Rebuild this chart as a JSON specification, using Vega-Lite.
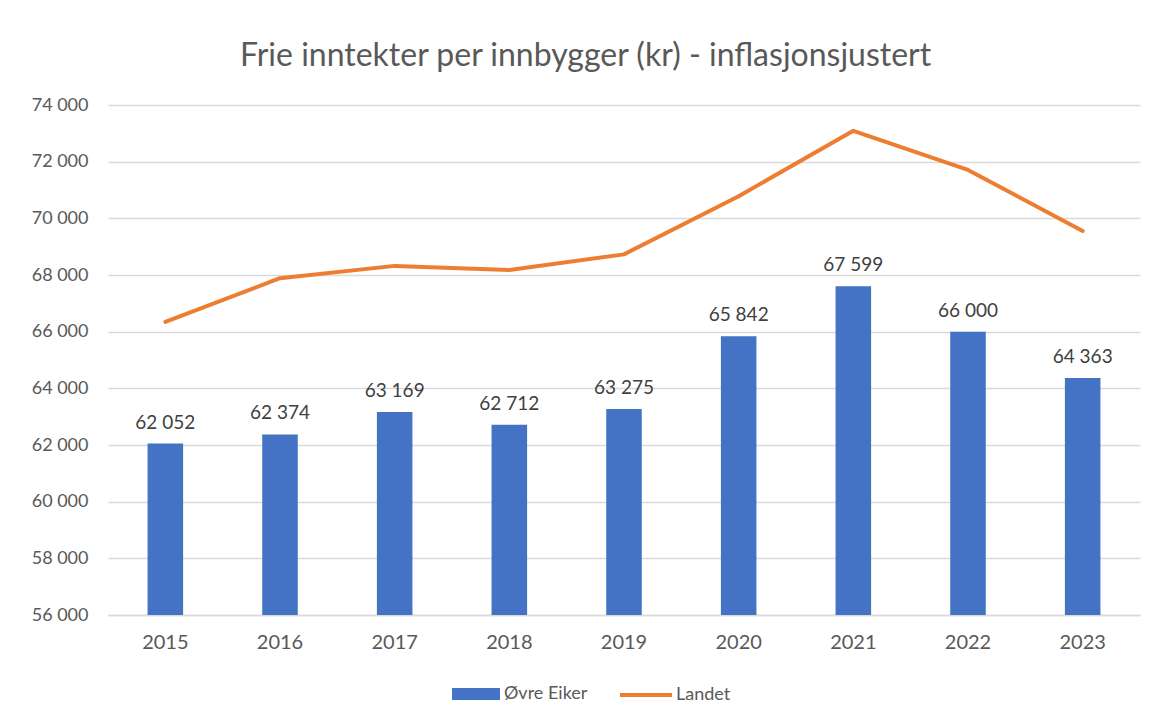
{
  "$schema": "https://vega.github.io/schema/vega-lite/v6.json",
  "autosize": "none",
  "width": 1032,
  "height": 510,
  "padding": {"left": 108, "top": 105, "right": 14, "bottom": 105},
  "background": "white",
  "config": {
    "locale": {"number": {"decimal": ",", "thousands": " ", "grouping": [3], "currency": ["", " kr"]}},
    "font": "Lato",
    "view": {"stroke": null},
    "axis": {"labelFont": "Lato", "labelColor": "#595959", "ticks": false, "title": null},
    "legend": {"labelFont": "Lato", "labelFontSize": 18, "labelColor": "#595959"}
  },
  "title": {"text": "Frie inntekter per innbygger (kr) - inflasjonsjustert", "font": "Lato", "fontSize": 32, "fontWeight": "normal", "color": "#595959", "anchor": "middle", "frame": "bounds", "offset": 23},
  "data": {"values": [
    {"year": "2015", "ovre": 62052, "landet": 66347},
    {"year": "2016", "ovre": 62374, "landet": 67886},
    {"year": "2017", "ovre": 63169, "landet": 68322},
    {"year": "2018", "ovre": 62712, "landet": 68173},
    {"year": "2019", "ovre": 63275, "landet": 68728},
    {"year": "2020", "ovre": 65842, "landet": 70782},
    {"year": "2021", "ovre": 67599, "landet": 73088},
    {"year": "2022", "ovre": 66000, "landet": 71709},
    {"year": "2023", "ovre": 64363, "landet": 69554}
  ]},
  "encoding": {
    "x": {"field": "year", "type": "ordinal", "scale": {"paddingInner": 0.69, "paddingOuter": 0.345},
      "axis": {"labelAngle": 0, "labelFontSize": 20, "labelPadding": 17, "domain": true, "domainColor": "#d9d9d9", "domainWidth": 1.5, "grid": false}}
  },
  "layer": [
    {
      "mark": {"type": "bar", "clip": true},
      "encoding": {
        "y": {"field": "ovre", "type": "quantitative", "scale": {"domain": [56000, 74000], "nice": false, "zero": false},
          "axis": {"values": [56000, 58000, 60000, 62000, 64000, 66000, 68000, 70000, 72000, 74000], "labelExpr": "format(datum.value, ',.0f')", "labelFontSize": 18, "domain": false, "grid": true, "gridColor": "#d9d9d9", "gridWidth": 1.5, "labelPadding": 20}},
        "color": {"datum": "Øvre Eiker", "type": "nominal", "scale": {"domain": ["Øvre Eiker"], "range": ["#4472C4"]},
          "legend": {"title": null, "orient": "none", "legendX": 344, "legendY": 565, "symbolType": "M-1,-0.25H1V0.25H-1Z", "symbolSize": 2304, "symbolStrokeWidth": 0, "labelOffset": 4}}
      }
    },
    {
      "mark": {"type": "text", "baseline": "bottom", "dy": -11, "fontSize": 19, "color": "#404040", "font": "Lato"},
      "encoding": {
        "y": {"field": "ovre", "type": "quantitative"},
        "text": {"field": "ovre", "type": "quantitative", "format": ",.0f"}
      }
    },
    {
      "mark": {"type": "line", "strokeWidth": 4, "strokeCap": "round", "strokeJoin": "round"},
      "encoding": {
        "y": {"field": "landet", "type": "quantitative"},
        "stroke": {"datum": "Landet", "type": "nominal", "scale": {"domain": ["Landet"], "range": ["#ED7D31"]},
          "legend": {"title": null, "orient": "none", "legendX": 510, "legendY": 562, "symbolType": "stroke", "symbolSize": 2704, "symbolStrokeWidth": 4, "labelOffset": 2}}
      }
    }
  ]
}
